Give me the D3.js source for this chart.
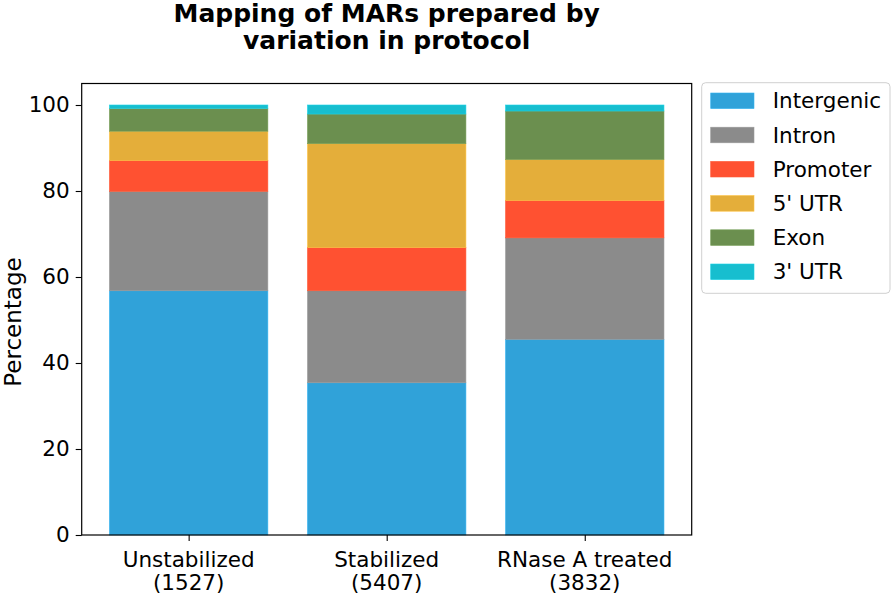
<!DOCTYPE html>
<html><head><meta charset="utf-8">
<script src="https://cdn.jsdelivr.net/npm/d3@7"></script>
<style>body{margin:0;background:#fff}svg{display:block}text{font-family:"DejaVu Sans",sans-serif;fill:#000}</style>
</head><body>
<svg id="c" width="892" height="598"></svg>
<script>
const categories = ["Unstabilized", "Stabilized", "RNase A treated"];
const counts = ["(1527)", "(5407)", "(3832)"];
const seriesNames = ["Intergenic", "Intron", "Promoter", "5' UTR", "Exon", "3' UTR"];
const intergenic = [56.8, 35.4, 45.5];
const intron = [23.1, 21.4, 23.6];
const promoter = [7.2, 10.05, 8.7];
const utr5 = [6.8, 24.15, 9.5];
const exon = [5.3, 6.9, 11.3];
const utr3 = [0.8, 2.1, 1.4];
const yTicks = [0, 20, 40, 60, 80, 100];
const colors = ["#30A2D9", "#8B8B8B", "#FF5131", "#E4AE3A", "#6B8F4F", "#17BECF"];

const seriesValues = [intergenic, intron, promoter, utr5, exon, utr3];
const rows = categories.map((c, i) => {
  const r = {cat: c};
  seriesNames.forEach((s, j) => r[s] = seriesValues[j][i]);
  return r;
});
const stacked = d3.stack().keys(seriesNames)(rows);

const svg = d3.select("#c");
const L = 81.7, R = 691.7, T = 83.5, B = 535;
const x = d3.scaleLinear().domain([-0.54, 2.54]).range([L, R]);
const y = d3.scaleLinear().domain([0, 105]).range([B, T]);
const bw = x(0.8) - x(0);
const FS = "21.5px";

const g = svg.append("g");
stacked.forEach((layer, j) => {
  g.selectAll(null).data(layer).enter().append("rect")
    .attr("x", (d, i) => x(i) - bw / 2)
    .attr("width", bw)
    .attr("y", d => y(d[1]))
    .attr("height", d => y(d[0]) - y(d[1]))
    .attr("fill", colors[j])
    .attr("stroke", d3.color(colors[j]).brighter(0.3))
    .attr("stroke-width", 0.6);
});

// frame
svg.append("rect").attr("x", L).attr("y", T).attr("width", R - L).attr("height", B - T)
  .attr("fill", "none").attr("stroke", "#000").attr("stroke-width", 1.2);

// y axis
const ya = svg.append("g").attr("transform", `translate(${L},0)`)
  .call(d3.axisLeft(y).tickValues(yTicks).tickSize(6).tickPadding(6));
ya.select(".domain").remove();
ya.selectAll("text").style("font-size", FS).style("font-family", '"DejaVu Sans",sans-serif');
ya.selectAll("line").attr("stroke-width", 1.1);

// x axis
const xa = svg.append("g").attr("transform", `translate(0,${B})`)
  .call(d3.axisBottom(x).tickValues([0, 1, 2]).tickSize(6).tickFormat(""));
xa.select(".domain").remove();
xa.selectAll("line").attr("stroke-width", 1.1);
categories.forEach((c, i) => {
  const t = svg.append("text").attr("x", x(i)).attr("y", 566.5).attr("text-anchor", "middle")
    .style("font-size", FS);
  t.append("tspan").attr("x", x(i)).text(c);
  t.append("tspan").attr("x", x(i)).attr("dy", 23.5).text(counts[i]);
});

// y label
svg.append("text").attr("transform", `translate(14,322) rotate(-90)`)
  .attr("text-anchor", "middle").attr("dominant-baseline", "middle")
  .style("font-size", "23px").text("Percentage");

// title
svg.append("text").attr("x", (L + R) / 2).attr("y", 21.5).attr("text-anchor", "middle")
  .style("font-size", "25px").style("font-weight", "bold").text("Mapping of MARs prepared by");
svg.append("text").attr("x", (L + R) / 2).attr("y", 49).attr("text-anchor", "middle")
  .style("font-size", "25px").style("font-weight", "bold").text("variation in protocol");

// legend
const lg = svg.append("g");
lg.append("rect").attr("x", 701.7).attr("y", 82.7).attr("width", 188.3).attr("height", 210.6)
  .attr("rx", 4).attr("fill", "#fff").attr("stroke", "#d0d0d0").attr("stroke-width", 1);
seriesNames.forEach((s, j) => {
  const cy = 100.8 + j * 34.2;
  lg.append("rect").attr("x", 710.7).attr("y", cy - 7.8).attr("width", 43.3).attr("height", 15.6)
    .attr("fill", colors[j]).attr("stroke", d3.color(colors[j]).brighter(0.3)).attr("stroke-width", 0.6);
  lg.append("text").attr("x", 772.7).attr("y", cy).attr("dominant-baseline", "central")
    .style("font-size", FS).text(s);
});
</script>
</body></html>
